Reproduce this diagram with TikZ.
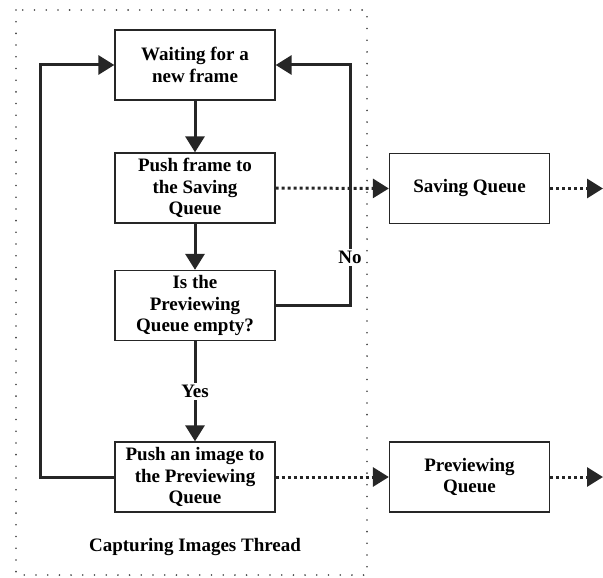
\documentclass[tikz,border=0pt]{standalone}
\usepackage{fontspec}
\setmainfont{Liberation Serif}
\usetikzlibrary{arrows.meta}
\begin{document}
\begin{tikzpicture}[x=1pt,y=-1pt,
  txt/.style={font=\fontsize{19}{21.5}\selectfont\bfseries},
  box/.style={txt, draw=black!85, line width=1.3pt, minimum width=160pt, minimum height=70pt, align=center, inner sep=0pt},
  flow/.style={line width=3pt, draw=black!85, -{Triangle[length=16pt,width=19pt]}},
  dflow/.style={line width=3pt, draw=black!85, dash pattern=on 3pt off 3pt, -{Triangle[length=16pt,width=19pt]}},
  lbl/.style={txt, fill=white, inner sep=2pt}]
\useasboundingbox (0,0) rectangle (603,578);
\draw[black!75, line width=1.8pt, line cap=round, dash pattern=on 0pt off 11.7pt] (16,10) rectangle (367,575);
\node[box] (wait) at (195,65) {Waiting for a\\new frame};
\node[box] (push) at (195,188) {Push frame to\\the Saving\\Queue};
\node[box] (empty) at (195,305.5) {Is the\\Previewing\\Queue empty?};
\node[box] (pimg) at (195,477) {Push an image to\\the Previewing\\Queue};
\node[box] (save) at (469.5,188.5) {Saving Queue};
\node[box] (prev) at (469.5,477) {Previewing\\Queue};
\node[txt] (cap) at (195,547) {Capturing Images Thread};
\coordinate (sout) at (603,188.5);
\coordinate (pout) at (603,477);
\draw[flow] (wait) -- (push);
\draw[flow] (push) -- (empty);
\draw[flow] (empty) -- node[lbl] {Yes} (pimg);
\draw[flow] (empty.east) -- (350,305.5) -- node[lbl, pos=0.2, inner xsep=0pt] {No} (350,65) -- (wait.east);
\draw[flow] (pimg.west) -- (40,477) -- (40,65) -- (wait.west);
\draw[dflow] (push.east) -- (save.west);
\draw[dflow] (pimg.east) -- (prev.west);
\draw[dflow] (save.east) -- (sout);
\draw[dflow] (prev.east) -- (pout);
\end{tikzpicture}
\end{document}
